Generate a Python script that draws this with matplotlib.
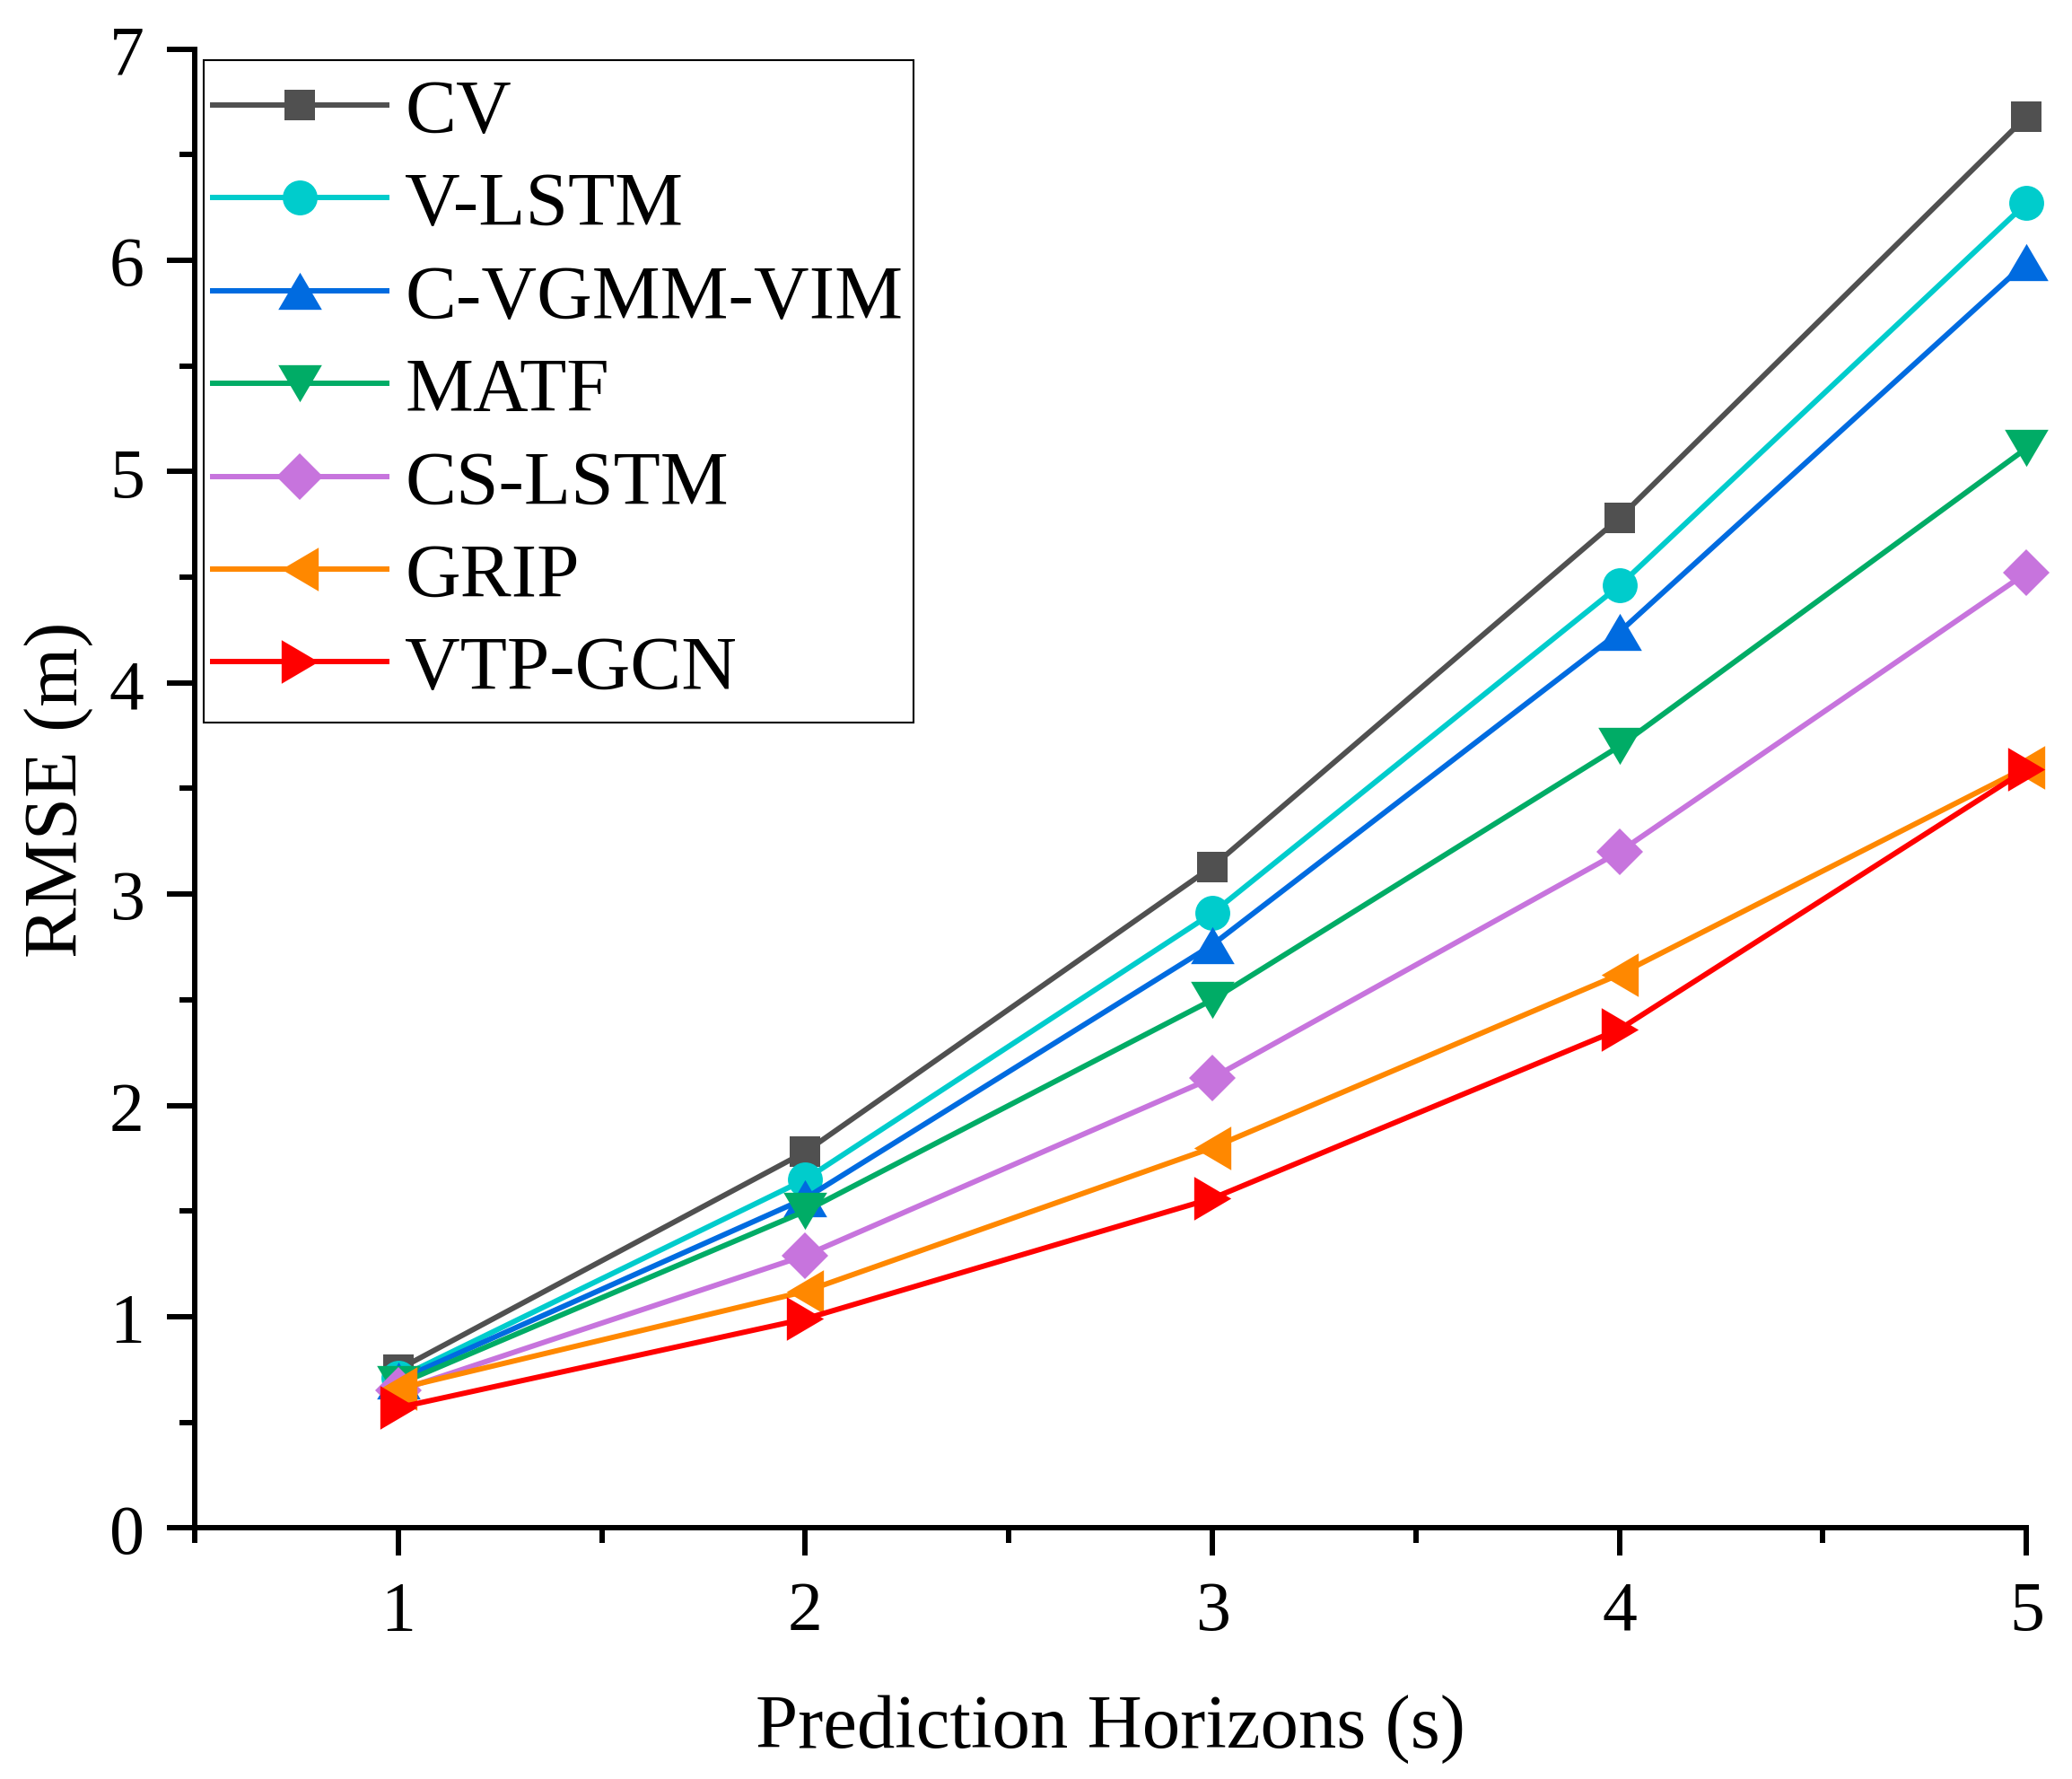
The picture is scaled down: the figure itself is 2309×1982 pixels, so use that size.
import matplotlib
matplotlib.use("Agg")
import matplotlib.pyplot as plt
from matplotlib.ticker import MultipleLocator
from matplotlib.patches import Rectangle
from matplotlib.path import Path

plt.rcParams['font.family'] = ['Liberation Serif', 'DejaVu Serif']

horizons = [1, 2, 3, 4, 5]
series_names = ["CV", "V-LSTM", "C-VGMM-VIM", "MATF", "CS-LSTM", "GRIP", "VTP-GCN"]
cv = [0.75, 1.78, 3.13, 4.78, 6.68]
v_lstm = [0.71, 1.65, 2.91, 4.46, 6.27]
c_vgmm_vim = [0.70, 1.56, 2.76, 4.24, 5.99]
matf = [0.68, 1.50, 2.50, 3.70, 5.11]
cs_lstm = [0.65, 1.29, 2.13, 3.20, 4.52]
grip = [0.66, 1.12, 1.80, 2.62, 3.60]
vtp_gcn = [0.57, 0.99, 1.56, 2.36, 3.59]

values = [cv, v_lstm, c_vgmm_vim, matf, cs_lstm, grip, vtp_gcn]
colors = ["#505050", "#00CCCC", "#006BE0", "#00AC66", "#C774DD", "#FF8800", "#FF0000"]

h = 0.85
tri_up = Path([(0, h), (-1, -h), (1, -h), (0, h)], closed=True)
tri_down = Path([(0, -h), (-1, h), (1, h), (0, -h)], closed=True)
tri_left = Path([(-h, 0), (h, 1), (h, -1), (-h, 0)], closed=True)
tri_right = Path([(h, 0), (-h, 1), (-h, -1), (h, 0)], closed=True)
markers = ["s", "o", tri_up, tri_down, "D", tri_left, tri_right]
msizes = [25, 28, 35, 35, 26.5, 35, 35]

W, H = 2309, 1983
fig = plt.figure(figsize=(W / 100, H / 100), dpi=100)
ax = fig.add_axes([0.094, 0.141, 0.884, 0.831])

for name, vals, c, m, ms in zip(series_names, values, colors, markers, msizes):
    ax.plot(horizons, vals, color=c, marker=m, markersize=ms, linewidth=4.3,
            markeredgewidth=0, label=name, clip_on=False)

ax.set_xlim(0.5, 5)
ax.set_ylim(0, 7)
ax.xaxis.set_major_locator(MultipleLocator(1))
ax.xaxis.set_minor_locator(MultipleLocator(0.5))
ax.yaxis.set_major_locator(MultipleLocator(1))
ax.yaxis.set_minor_locator(MultipleLocator(0.5))

for s in ["top", "right"]:
    ax.spines[s].set_visible(False)
for s in ["left", "bottom"]:
    ax.spines[s].set_linewidth(4.3)

ax.tick_params(which="major", direction="out", length=22.5, width=4.3, labelsize=56, pad=18)
ax.tick_params(which="minor", direction="out", length=12, width=4.3)
ax.tick_params(axis="x", which="major", pad=19)

ax.set_xlabel("Prediction Horizons (s)", fontsize=61, labelpad=40)
ax.set_ylabel("RMSE (m)", fontsize=61, labelpad=13)

fs = 61.5
leg = fig.legend(*ax.get_legend_handles_labels(), loc="upper left",
                 bbox_to_anchor=(237 / W, 1 - 88 / H), bbox_transform=fig.transFigure,
                 fontsize=fs, frameon=False,
                 handlelength=2.27, handletextpad=0.24, labelspacing=0.3,
                 borderpad=0, borderaxespad=0)

fig.canvas.draw()
bb = leg.get_window_extent(fig.canvas.get_renderer())
padx_l, padx_r, pady = 10, 12, 20
rect = Rectangle(((bb.x0 - padx_l) / W, (bb.y0 - pady) / H),
                 (bb.width + padx_l + padx_r) / W, (bb.height + 2 * pady) / H,
                 transform=fig.transFigure, facecolor="white", edgecolor="black",
                 linewidth=1.5, zorder=leg.get_zorder() - 0.1)
fig.patches.append(rect)

fig.savefig("out.png", dpi=100)
